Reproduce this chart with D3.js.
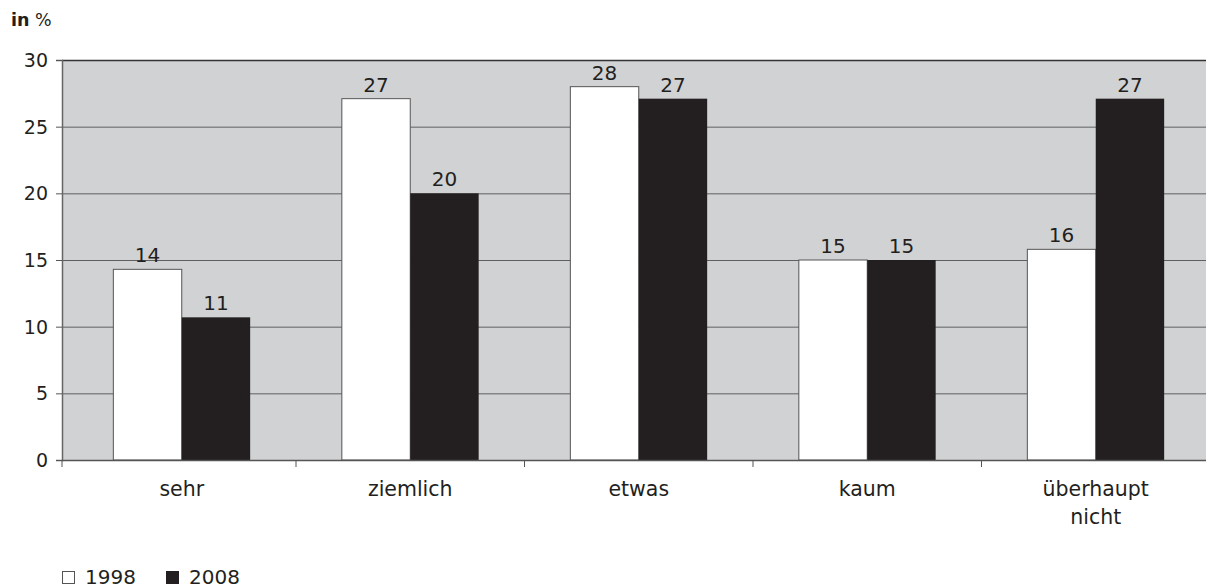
<!DOCTYPE html>
<html><head><meta charset="utf-8">
<script src="https://cdn.jsdelivr.net/npm/d3@7"></script>
<style>body{margin:0;background:#fff;} text{font-family:"DejaVu Sans",sans-serif;fill:#231f20;}</style>
</head><body>
<svg id="c" width="1206" height="588"></svg>
<script>
const categories = ["sehr", "ziemlich", "etwas", "kaum", "überhaupt nicht"];
const categoryLines = [["sehr"], ["ziemlich"], ["etwas"], ["kaum"], ["überhaupt", "nicht"]];
const series = ["1998", "2008"];
const values1998 = [14.3, 27.1, 28.0, 15.0, 15.8];
const values2008 = [10.7, 20.0, 27.1, 15.0, 27.1];
const labels1998 = ["14", "27", "28", "15", "16"];
const labels2008 = ["11", "20", "27", "15", "27"];
const yTicks = [0, 5, 10, 15, 20, 25, 30];

const svg = d3.select("#c");
const mLeft = 62, mRight = 1206, mTop = 60, mBottom = 460;
const x = d3.scaleBand().domain(categories).range([67.5, 1210]);
const xs = d3.scaleBand().domain(series).range([0, x.bandwidth()]).paddingOuter(0.67).paddingInner(0);
const y = d3.scaleLinear().domain([0, 30]).range([mBottom, mTop]);

svg.append("rect").attr("x", mLeft).attr("y", mTop).attr("width", mRight - mLeft).attr("height", mBottom - mTop).attr("fill", "#d1d2d4");

// gridlines
svg.append("g").selectAll("line").data(yTicks.filter(d => d > 0)).join("line")
  .attr("x1", mLeft).attr("x2", mRight).attr("y1", d => y(d) + 0.5).attr("y2", d => y(d) + 0.5)
  .attr("stroke", d => d === 30 ? "#333" : "#606062").attr("stroke-width", d => d === 30 ? 1.5 : 1);

// y axis
const yAxis = d3.axisLeft(y).tickValues(yTicks).tickSize(6).tickPadding(8);
const gy = svg.append("g").attr("transform", `translate(${mLeft},0)`).call(yAxis);
gy.select(".domain").attr("stroke", "#666").attr("stroke-width", 1.5);
gy.selectAll(".tick line").attr("stroke", "#555");
gy.selectAll(".tick text").style("font-size", "19px").style("font-family", "DejaVu Sans").attr("fill", "#231f20").attr("dy", "0.35em");

const data = categories.map((c, i) => [
  {cat: c, s: "1998", v: values1998[i], l: labels1998[i]},
  {cat: c, s: "2008", v: values2008[i], l: labels2008[i]}
]).flat();

svg.append("g").selectAll("rect").data(data).join("rect")
  .attr("x", d => x(d.cat) + xs(d.s))
  .attr("width", xs.bandwidth())
  .attr("y", d => y(d.v))
  .attr("height", d => y(0) - y(d.v))
  .attr("fill", d => d.s === "1998" ? "#fff" : "#231f20")
  .attr("stroke", d => d.s === "1998" ? "#555" : "none")
  .attr("stroke-width", 1);

svg.append("g").selectAll("text").data(data).join("text")
  .attr("x", d => x(d.cat) + xs(d.s) + xs.bandwidth() / 2)
  .attr("y", d => y(d.v) - 7)
  .attr("text-anchor", "middle").style("font-size", "20px").text(d => d.l);

// x axis
const gx = svg.append("g").attr("transform", `translate(0,${mBottom})`);
gx.append("line").attr("x1", mLeft).attr("x2", mRight).attr("y1", 0.5).attr("y2", 0.5).attr("stroke", "#555").attr("stroke-width", 1.5);
const tickXs = [mLeft].concat(categories.slice(1).map(c => x(c)));
gx.selectAll("line.t").data(tickXs).join("line").attr("class", "t")
  .attr("x1", d => d).attr("x2", d => d).attr("y1", 0).attr("y2", 7).attr("stroke", "#555");
gx.selectAll("text").data(categories).join("text")
  .attr("x", d => x(d) + x.bandwidth() / 2)
  .attr("text-anchor", "middle").style("font-size", "20.5px")
  .each(function(d, i) {
    const t = d3.select(this);
    categoryLines[i].forEach((ln, k) => t.append("tspan").attr("x", x(d) + x.bandwidth() / 2).attr("y", 36 + k * 28).text(ln));
  });

// unit label
const u = svg.append("text").attr("x", 11).attr("y", 26).style("font-size", "17.5px");
u.append("tspan").style("font-weight", "bold").text("in");
u.append("tspan").text(" %");

// legend
const lg = svg.append("g");
const legX = [62, 166];
series.forEach((s, i) => {
  lg.append("rect").attr("x", legX[i] + 0.5).attr("y", 571.5).attr("width", 12).attr("height", 12)
    .attr("fill", s === "1998" ? "#fff" : "#231f20").attr("stroke", s === "1998" ? "#555" : "#231f20");
  lg.append("text").attr("x", legX[i] + 23).attr("y", 584).style("font-size", "20px").text(s);
});
</script>
</body></html>
